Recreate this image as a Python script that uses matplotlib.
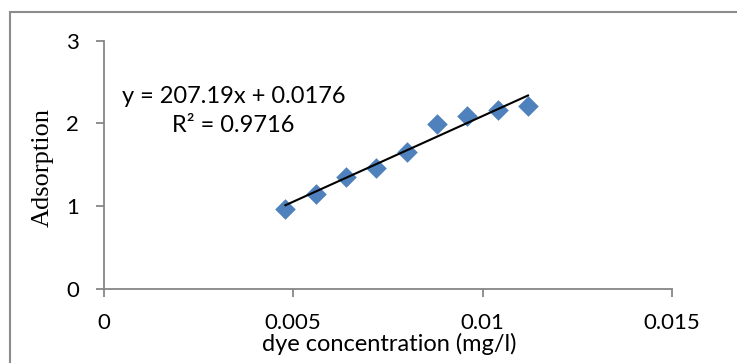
import matplotlib
matplotlib.use("Agg")
import matplotlib.pyplot as plt
import numpy as np
from matplotlib.patches import Rectangle

# Data
concentration = [0.0048, 0.0056, 0.0064, 0.0072, 0.0080, 0.0088, 0.0096, 0.0104, 0.0112]
adsorption = [0.97, 1.15, 1.35, 1.46, 1.66, 1.99, 2.09, 2.16, 2.21]
trend_slope = 207.19
trend_intercept = 0.0176
equation_label = "y = 207.19x + 0.0176"
r2_label = "R² = 0.9716"
x_ticks = [0, 0.005, 0.01, 0.015]
x_tick_labels = ["0", "0.005", "0.01", "0.015"]
y_ticks = [0, 1, 2, 3]
y_tick_labels = ["0", "1", "2", "3"]

W, H = 737, 363
fig = plt.figure(figsize=(W / 100, H / 100), dpi=100)

def fx(px):
    return px / W

def fy(py):
    return 1 - py / H

left, right, top, bottom = 103.5, 672.0, 40.7, 289.0
ax = fig.add_axes([fx(left), fy(bottom), fx(right) - fx(left), fy(top) - fy(bottom)])

grey = "#868686"
font = "Lato"

ax.scatter(concentration, adsorption, marker="D", s=110, color="#4F81BD",
           linewidths=0, zorder=3, clip_on=False)

xs = np.array([min(concentration), max(concentration)])
ax.plot(xs, trend_slope * xs + trend_intercept, color="black", lw=1.5, zorder=4)

ax.set_xlim(0, 0.015)
ax.set_ylim(0, 3)
ax.set_xticks(x_ticks)
ax.set_xticklabels(x_tick_labels)
ax.set_yticks(y_ticks)
ax.set_yticklabels(y_tick_labels)

for s in ("top", "right"):
    ax.spines[s].set_visible(False)
for s in ("left", "bottom"):
    ax.spines[s].set_color(grey)
    ax.spines[s].set_linewidth(1.3)

ax.tick_params(axis="both", direction="out", length=5.5, width=1.3, color=grey,
               labelsize=16, labelcolor="black")
ax.tick_params(axis="y", pad=12)
ax.tick_params(axis="x", pad=12)
for lab in ax.get_xticklabels() + ax.get_yticklabels():
    lab.set_family(font)

ax.set_xlabel("dye concentration (mg/l)", fontsize=17, family=font)
ax.xaxis.label.set_va("center")
ax.xaxis.set_label_coords((389 - left) / (right - left), (bottom - 344) / (bottom - top))

ax.set_ylabel("Adsorption", fontsize=19, family="Liberation Serif")
ax.yaxis.label.set_va("center")
ax.yaxis.set_label_coords((43 - left) / (right - left), (bottom - 167) / (bottom - top))

ax.text((233.5 - left) / (right - left), (bottom - 96) / (bottom - top), equation_label,
        transform=ax.transAxes, ha="center", va="center", fontsize=17, family=font)
ax.text((233.5 - left) / (right - left), (bottom - 125) / (bottom - top), r2_label,
        transform=ax.transAxes, ha="center", va="center", fontsize=17, family=font)

# chart-area border (Excel style), extending past right and bottom edges
border = Rectangle((fx(10), -0.2), 1.2, fy(11.7) + 0.2, transform=fig.transFigure,
                   fill=False, edgecolor="#8c8c8c", lw=1.5, clip_on=False)
fig.patches.append(border)

fig.savefig("out.png", dpi=100)
